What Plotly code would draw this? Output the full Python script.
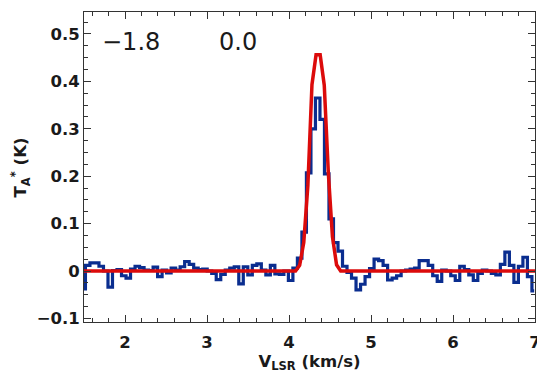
import numpy as np
import plotly.graph_objects as go

# Observed spectrum: antenna temperature (K) per channel
V0 = 1.49      # velocity of first channel (km/s)
DV = 0.055     # channel width (km/s)
ta_obs = [
    -0.038, 0.012, 0.017, 0.017, 0.010, 0.000, -0.034, 0.001, 0.003, -0.010,
    -0.015, 0.004, 0.010, 0.007, 0.002, 0.001, 0.008, -0.012, 0.002, -0.004,
    0.006, 0.002, 0.009, 0.020, 0.014, 0.006, 0.003, 0.004, 0.000, -0.005,
    -0.018, -0.007, 0.002, 0.006, 0.009, -0.027, 0.009, -0.008, 0.012, 0.015,
    0.002, -0.008, 0.012, -0.006, -0.007, 0.000, -0.020, 0.006, 0.027, 0.082,
    0.207, 0.300, 0.365, 0.320, 0.205, 0.110, 0.060, 0.042, 0.010, -0.003,
    -0.015, -0.040, -0.028, -0.012, 0.005, 0.025, 0.022, 0.012, -0.019, -0.015,
    -0.010, 0.000, 0.002, 0.004, 0.006, 0.022, 0.022, 0.012, -0.010, -0.022,
    0.002, 0.000, -0.010, -0.020, 0.010, 0.003, -0.008, -0.020, -0.005, 0.002,
    0.000, -0.005, -0.008, 0.014, 0.040, 0.012, -0.024, 0.010, 0.029, -0.012,
    -0.042,
]
vel_obs = V0 + DV * np.arange(len(ta_obs))

# Gaussian fit, as sampled points
vel_fit = [1.5, 4.08, 4.13, 4.18, 4.23, 4.28, 4.33, 4.38, 4.43, 4.48, 4.53, 4.58, 4.63, 7.0]
ta_fit = [0.0, 0.0, 0.012, 0.060, 0.180, 0.393, 0.456, 0.456, 0.392, 0.206, 0.072, 0.013, 0.0, 0.0]

# Labels in the top-left corner
corner_labels = ["\u22121.8", "0.0"]
corner_x = [0.035, 0.295]

fig = go.Figure()

fig.add_trace(go.Scatter(
    x=vel_obs, y=ta_obs,
    mode='lines',
    line=dict(color='#0a2d8f', width=3.2, shape='hvh'),
    showlegend=False,
))

fig.add_trace(go.Scatter(
    x=vel_fit, y=ta_fit,
    mode='lines',
    line=dict(color='#dc0b0b', width=3.5),
    showlegend=False,
))

label_font = dict(family='DejaVu Sans', size=16.5, color='#1a1a1a', weight='bold')

axis_common = dict(
    showline=True, linecolor='#333333', linewidth=1, mirror='allticks',
    ticks='inside', ticklen=7, tickcolor='#333333',
    showgrid=False, zeroline=False, automargin=False,
    ticklabeloverflow='allow',
    tickfont=label_font,
)

fig.update_xaxes(
    range=[1.5, 7.0], dtick=1, tick0=0,
    minor=dict(dtick=0.2, tick0=0, ticks='inside', ticklen=4, tickcolor='#333333'),
    title=dict(text='V<sub>LSR</sub> (km/s)', standoff=3, font=label_font),
    ticklabelstandoff=5,
    **axis_common,
)
fig.update_yaxes(
    range=[-0.1076, 0.5464],
    tickvals=[-0.1, 0, 0.1, 0.2, 0.3, 0.4, 0.5],
    ticktext=['\u22120.1', '0', '0.1', '0.2', '0.3', '0.4', '0.5'],
    minor=dict(dtick=0.025, tick0=0, ticks='inside', ticklen=4, tickcolor='#333333'),
    **axis_common,
)

# y title as an annotation so it can sit closer to the page edge
fig.add_annotation(
    x=-0.141, y=0.5, xref='paper', yref='paper',
    text='T<sub>A</sub><sup>*</sup> (K)', textangle=-90, showarrow=False,
    xanchor='center', yanchor='middle', font=label_font,
)

for txt, xp in zip(corner_labels, corner_x):
    fig.add_annotation(
        x=xp, y=0.903, xref='paper', yref='paper',
        text=txt, showarrow=False, xanchor='left', yanchor='middle',
        font=dict(family='DejaVu Sans', size=24, color='#1a1a1a'),
    )

# the page body adds an 8px offset, so the figure is 8px smaller than the window
fig.update_layout(
    width=537, height=381,
    margin=dict(l=76, r=10, t=4, b=67),
    plot_bgcolor='white', paper_bgcolor='white',
)

fig.write_html("out.html")
